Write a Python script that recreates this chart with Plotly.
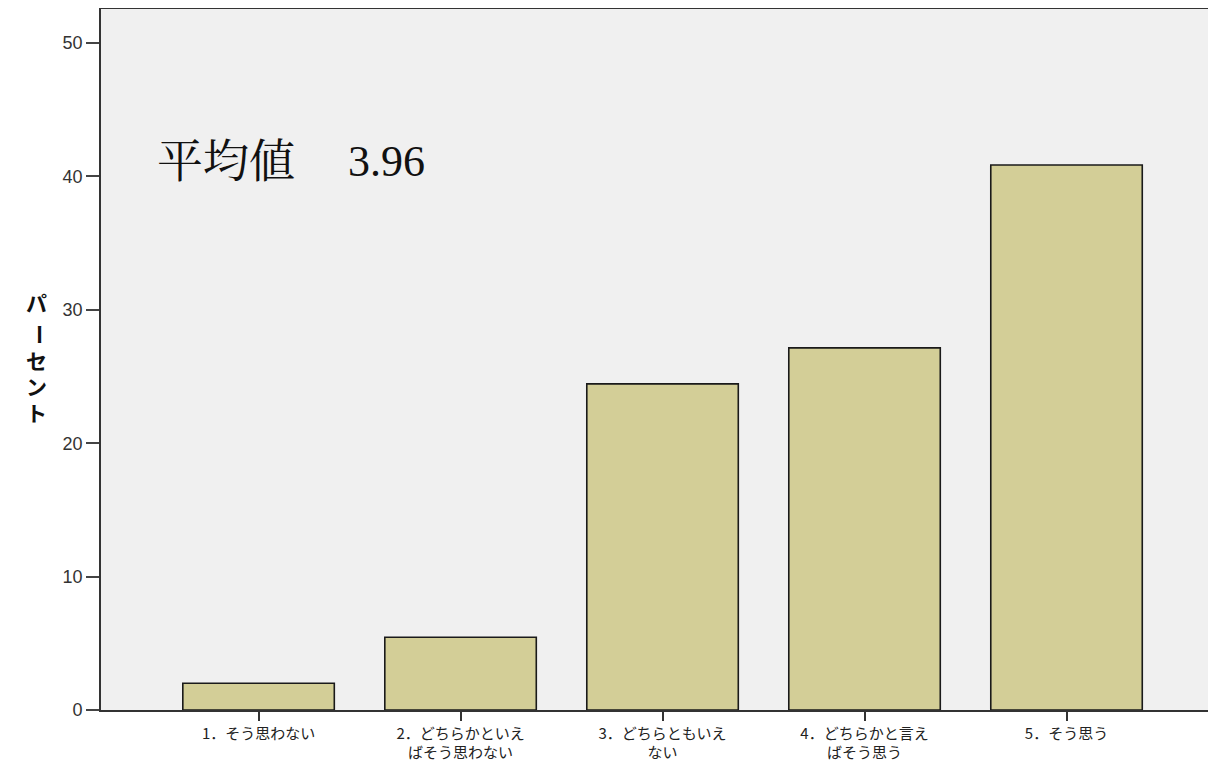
import plotly.graph_objects as go

# Response categories (x tick labels) and percentages
categories = ['1．そう思わない', '2．どちらかといえ<br>ばそう思わない', '3．どちらともいえ<br>ない',
              '4．どちらかと言え<br>ばそう思う', '5．そう思う']
percent = [2.0, 5.45, 24.45, 27.15, 40.85]
y_ticks = [0, 10, 20, 30, 40, 50]
mean_label = '平均値'
mean_value = '3.96'
y_title = ['パ', 'ー', 'セ', 'ン', 'ト']

gothic = 'Noto Sans CJK JP, Liberation Sans, Arial, sans-serif'
serif = 'Liberation Serif, Noto Serif CJK JP, Noto Sans CJK JP, serif'

# the page body adds an 8px margin, so the figure is laid out 8px smaller
W, H = 1208, 753
L, T, B = 93, 1, 51

fig = go.Figure()
fig.add_trace(go.Bar(
    x=list(range(len(categories))), y=percent, width=0.75,
    marker=dict(color='#d3ce97', line=dict(color='#1a1a1a', width=1.6)),
))

fig.update_layout(
    width=W, height=H,
    margin=dict(l=L, r=0, t=T, b=B),
    paper_bgcolor='white', plot_bgcolor='#f0f0f0',
    showlegend=False,
    font=dict(family=gothic, color='#222'),
    xaxis=dict(
        range=[-0.78, 4.74], tickmode='array',
        tickvals=list(range(len(categories))), ticktext=categories,
        ticks='outside', ticklen=9, tickwidth=1.5, tickcolor='#333',
        showline=True, linecolor='#333', linewidth=1.6, mirror=True,
        showgrid=False, zeroline=False, automargin=False,
        tickfont=dict(size=15, family=gothic, color='#222'),
    ),
    yaxis=dict(
        range=[0, 52.55], tickvals=y_ticks,
        ticks='outside', ticklen=13, tickwidth=2, tickcolor='#444',
        showline=True, linecolor='#333', linewidth=1.6,
        showgrid=False, zeroline=False, automargin=False,
        tickfont=dict(size=18, family='Liberation Sans, Arial, sans-serif', color='#333'),
    ),
)


def px_x(p):
    # page pixel -> paper x
    return (p - 8 - L) / (W - L)


def px_y(p):
    # page pixel -> paper y
    return 1 - (p - 8 - T) / (H - T - B)


# vertical axis title, one character per line
y_title_pos = [302, 334, 360, 386, 412]
for ch, yp in zip(y_title, y_title_pos):
    fig.add_annotation(
        x=px_x(24), y=px_y(yp), xref='paper', yref='paper', text='<b>%s</b>' % ch,
        showarrow=False, textangle=90 if ch == 'ー' else 0,
        font=dict(size=21, family=gothic, color='#111'),
    )

fig.add_annotation(
    x=px_x(155), y=41.15, xref='paper', yref='y', text=mean_label,
    xanchor='left', yanchor='middle', showarrow=False,
    font=dict(size=46, family=serif, color='#111'),
)
fig.add_annotation(
    x=px_x(346), y=41.15, xref='paper', yref='y', text=mean_value,
    xanchor='left', yanchor='middle', showarrow=False,
    font=dict(size=44, family=serif, color='#111'),
)

fig.write_html("out.html")
